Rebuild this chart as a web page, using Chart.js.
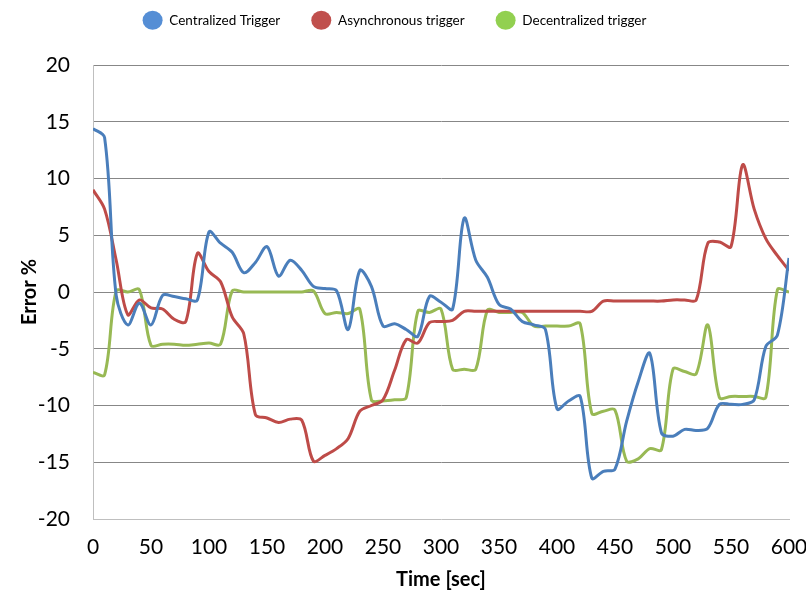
<!DOCTYPE html>
<html>
<head>
<meta charset="utf-8">
<script src="https://cdn.jsdelivr.net/npm/chart.js@4.4.1/dist/chart.umd.min.js"></script>
<style>
  html, body { margin: 0; padding: 0; background: #ffffff; }
  #wrap { width: 806px; height: 596px; }
</style>
</head>
<body>
<div id="wrap"><canvas id="c" width="806" height="596"></canvas></div>
<script>
// ---- data ----
const times = [0,10,20,30,40,50,60,70,80,90,100,110,120,130,140,150,160,170,180,190,200,
  210,220,230,240,250,260,270,280,290,300,310,320,330,340,350,360,370,380,390,400,
  410,420,430,440,450,460,470,480,490,500,510,520,530,540,550,560,570,580,590,600];

const centralized = [14.4,13.6,-0.3,-2.9,-1.0,-2.9,-0.3,-0.4,-0.6,-0.7,5.3,
  4.3,3.5,1.7,2.6,4.0,1.4,2.8,1.9,0.5,0.3,
  0.1,-3.3,1.9,0.5,-3.0,-2.8,-3.3,-3.9,-0.4,-0.9,
  -1.5,6.5,2.8,1.3,-1.1,-1.5,-2.6,-2.9,-3.3,-10.3,
  -9.6,-9.2,-16.4,-15.8,-15.6,-11.4,-7.9,-5.4,-12.4,-12.7,
  -12.1,-12.2,-12.0,-9.9,-9.9,-9.9,-9.5,-4.8,-3.8,3.0];

const asynchronous = [9.0,7.3,2.8,-2.0,-0.7,-1.4,-1.5,-2.4,-2.6,3.4,1.8,
  0.9,-2.2,-3.7,-10.8,-11.1,-11.5,-11.2,-11.3,-14.9,-14.4,
  -13.8,-12.9,-10.5,-10.0,-9.5,-6.9,-4.2,-4.5,-2.7,-2.6,
  -2.5,-1.7,-1.7,-1.7,-1.7,-1.7,-1.7,-1.7,-1.7,-1.7,
  -1.7,-1.7,-1.7,-0.8,-0.8,-0.8,-0.8,-0.8,-0.8,-0.7,
  -0.7,-0.7,4.3,4.4,4.0,11.2,7.3,4.7,3.2,1.9];

const decentralized = [-7.1,-7.3,0.1,0.0,0.2,-4.7,-4.6,-4.6,-4.7,-4.6,-4.5,
  -4.6,0.1,0.0,0.0,0.0,0.0,0.0,0.0,0.1,-1.9,
  -1.8,-1.9,-1.5,-9.5,-9.6,-9.5,-9.3,-1.7,-1.8,-1.5,
  -6.8,-6.8,-6.8,-1.6,-1.8,-1.8,-1.8,-3.0,-3.0,-3.0,
  -3.0,-2.8,-10.7,-10.5,-10.4,-14.9,-14.7,-13.8,-13.9,-6.8,
  -7.0,-7.2,-2.9,-9.3,-9.2,-9.2,-9.2,-9.3,0.2,0.0];

const seriesNames = ['Centralized Trigger', 'Asynchronous trigger', 'Decentralized trigger'];
const xTickValues = [0,50,100,150,200,250,300,350,400,450,500,550,600];
const yTickValues = [-20,-15,-10,-5,0,5,10,15,20];

// ---- styles ----
const lineColors = ['#4A7EBB', '#BE4B48', '#98B954'];
const legendColors = ['#558ED5', '#C0504D', '#92D050'];
const FONT = 'Lato, "Open Sans", "Liberation Sans", sans-serif';

function toPoints(values) {
  return times.map((t, i) => ({ x: t, y: values[i] }));
}

const datasets = [centralized, asynchronous, decentralized].map((vals, i) => ({
  label: seriesNames[i],
  data: toPoints(vals),
  borderColor: lineColors[i],
  backgroundColor: legendColors[i],
  borderWidth: 3,
  pointRadius: 0,
  tension: 0.33,
  fill: false
}));

new Chart(document.getElementById('c').getContext('2d'), {
  type: 'line',
  data: { datasets },
  options: {
    responsive: false,
    animation: false,
    events: [],
    layout: { padding: { top: -17.5, right: 17, bottom: 0, left: 0 } },
    plugins: {
      tooltip: { enabled: false },
      legend: {
        position: 'top',
        labels: {
          usePointStyle: true,
          pointStyle: 'circle',
          pointStyleWidth: 20,
          padding: 31,
          color: '#000000',
          font: { family: FONT, size: 13.5 },
          generateLabels(chart) {
            const items = Chart.defaults.plugins.legend.labels.generateLabels(chart);
            items.forEach((it, i) => {
              it.fillStyle = legendColors[i];
              it.strokeStyle = legendColors[i];
              it.lineWidth = 0;
              it.pointStyle = 'circle';
            });
            return items;
          }
        }
      },
      title: {
        display: true,
        text: ' ',
        weight: 500,
        padding: 0,
        font: { family: FONT, size: 10, lineHeight: 2.8 }
      }
    },
    scales: {
      x: {
        type: 'linear',
        min: 0,
        max: 600,
        afterBuildTicks(scale) { scale.ticks = xTickValues.map(v => ({ value: v })); },
        afterFit(scale) { scale.height = 77; scale.paddingLeft = 0; scale.paddingRight = 0; },
        grid: { display: false, drawTicks: false },
        border: { display: true, color: '#BFBFBF', width: 1 },
        ticks: {
          color: '#000000',
          padding: 16,
          maxRotation: 0,
          autoSkip: false,
          font: { family: FONT, size: 21 }
        },
        title: {
          display: true,
          text: 'Time [sec]',
          color: '#000000',
          padding: { top: 4, bottom: 4 },
          font: { family: FONT, size: 20, weight: 'bold' }
        }
      },
      y: {
        type: 'linear',
        min: -20,
        max: 20,
        afterBuildTicks(scale) { scale.ticks = yTickValues.map(v => ({ value: v })); },
        afterFit(scale) { scale.width = 93; },
        grid: {
          drawTicks: false,
          color: (c) => (c.tick && c.tick.value === -20) ? 'rgba(0,0,0,0)' : '#878787',
          lineWidth: 1
        },
        border: { display: true, color: '#BFBFBF', width: 1 },
        ticks: {
          color: '#000000',
          padding: 23,
          autoSkip: false,
          font: { family: FONT, size: 21 }
        },
        title: {
          display: true,
          text: 'Error %',
          color: '#000000',
          padding: { top: 18, bottom: 4 },
          font: { family: FONT, size: 20, weight: 'bold' }
        }
      }
    }
  }
});
</script>
</body>
</html>
